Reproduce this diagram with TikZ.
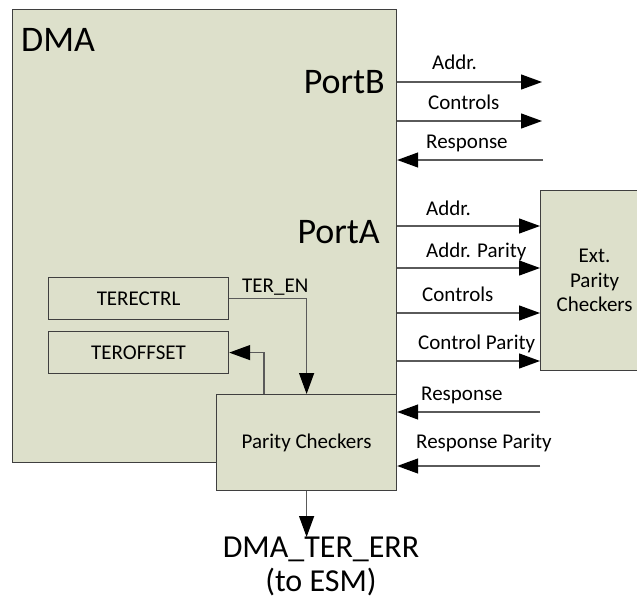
\documentclass[tikz,border=0pt]{standalone}
\usepackage{fontspec}
\setmainfont{Carlito}
\usetikzlibrary{arrows.meta,positioning,calc}
\definecolor{blockfill}{HTML}{DDE0CB}
\definecolor{edge}{HTML}{3F3F3F}
\definecolor{wire}{HTML}{5A5A5A}

\begin{document}
\begin{tikzpicture}[x=1pt, y=-1pt,
  every node/.style={font=\fontsize{21}{24.5}\selectfont, inner sep=0pt},
  block/.style={draw=edge, fill=blockfill, line width=1.2pt, anchor=north west},
  big/.style={font=\fontsize{36}{40}\selectfont},
  outtxt/.style={font=\fontsize{32}{34}\selectfont, align=center},
  lbl/.style={anchor=base west},
  sig/.style={draw=wire, line width=1.3pt, -{Triangle[length=21pt, width=15pt, color=black]}}
]
  \clip (0,0) rectangle (637,602);

  % blocks
  \node[block, minimum width=384, minimum height=453] (dma) at (12,9) {};
  \node[big, anchor=base west] (dmalbl) at (21,52) {DMA};
  \node[big, anchor=base east] (portb) at (385,93) {PortB};
  \node[big, anchor=base east] (porta) at (380,243) {PortA};

  \node[block, minimum width=180, minimum height=96] (parity) at (216,394) {Parity Checkers};
  \node[block, minimum width=180, minimum height=42] (terectrl) at (48,277) {TERECTRL};
  \node[block, minimum width=180, minimum height=42] (teroffset) at (48,331) {TEROFFSET};
  \node[block, minimum width=108, minimum height=180, align=center] (ext) at (540,190) {Ext.\\Parity\\Checkers};

  % PortB signals
  \coordinate (pbaddr) at (542,82);
  \coordinate (pbctrl) at (542,121);
  \coordinate (pbresp) at (543,160);
  \draw[sig] (pbaddr -| dma.east) -- (pbaddr);
  \draw[sig] (pbctrl -| dma.east) -- (pbctrl);
  \draw[sig] (pbresp) -- (pbresp -| dma.east);
  \node[lbl] (lpbaddr) at (432,70) {Addr.};
  \node[lbl] (lpbctrl) at (428,109) {Controls};
  \node[lbl] (lpbresp) at (426,148) {Response};

  % PortA signals
  \coordinate (paaddr) at (540,226);
  \coordinate (paapar) at (540,268);
  \coordinate (pactrl) at (540,313);
  \coordinate (pacpar) at (540,361);
  \draw[sig] (paaddr -| dma.east) -- (paaddr -| ext.west);
  \draw[sig] (paapar -| dma.east) -- (paapar -| ext.west);
  \draw[sig] (pactrl -| dma.east) -- (pactrl -| ext.west);
  \draw[sig] (pacpar -| dma.east) -- (pacpar -| ext.west);
  \node[lbl] (lpaaddr) at (426,215) {Addr.};
  \node[lbl] (lpaapar) at (426,257) {Addr. Parity};
  \node[lbl] (lpactrl) at (422,301) {Controls};
  \node[lbl] (lpacpar) at (418,349) {Control Parity};

  % responses into the parity checkers
  \coordinate (resp) at (540,412);
  \coordinate (rpar) at (540,466);
  \draw[sig] (resp) -- (resp -| parity.east);
  \draw[sig] (rpar) -- (rpar -| parity.east);
  \node[lbl] (lresp) at (421,400) {Response};
  \node[lbl] (lrpar) at (416,448) {Response Parity};

  % internal paths
  \draw[sig] (terectrl.east) -| (parity.north);
  \node[lbl] (lteren) at (242,292) {TER\_EN};
  \coordinate (offtap) at ($(parity.north west)+(48,0)$);
  \draw[sig] (offtap) |- (teroffset.east);

  % error output
  \node[outtxt, anchor=north] (err) at (321,537) {DMA\_TER\_ERR\\(to ESM)};
  \draw[sig] (parity.south) -- (parity.south |- err.north);
\end{tikzpicture}
\end{document}
